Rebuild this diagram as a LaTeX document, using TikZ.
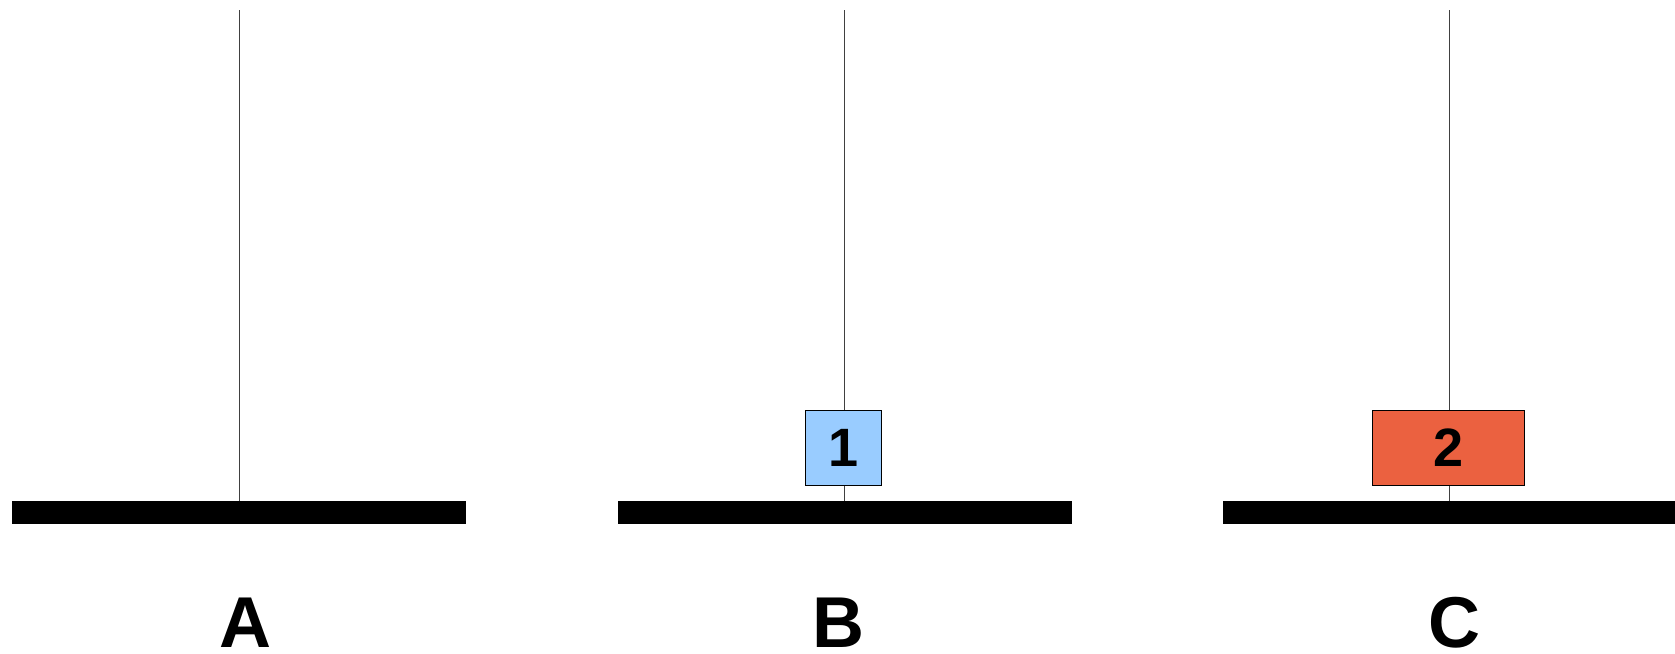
\documentclass[tikz,border=0pt]{standalone}
\usepackage{fontspec}
\setmainfont{Liberation Sans}
\usetikzlibrary{positioning}
\usepackage{xcolor}
\definecolor{diskblue}{RGB}{153,204,255}
\definecolor{diskred}{RGB}{235,97,64}
\tikzset{
  base/.style = {fill=black, draw=none, minimum width=227pt, minimum height=11.6pt,
                 inner sep=0pt, outer sep=0pt},
  peg/.style  = {draw=black!75, line width=0.5pt},
  disk/.style = {draw=black, line width=0.5pt, minimum height=37.7pt, inner sep=0pt,
                 font=\fontsize{27}{30}\selectfont\bfseries},
  tag/.style  = {font=\fontsize{36}{40}\selectfont\bfseries, anchor=base, inner sep=0pt,
                 text depth=0pt}
}

\begin{document}
\begin{tikzpicture}[x=0.5pt, y=-0.5pt]
\useasboundingbox (0,0) rectangle (1675,653);
\foreach \x/\name in {239/A, 844.5/B, 1449.5/C} {
  \node[base] (base\name) at (\x,512.3) {};
  \coordinate (top\name) at (\x,10);
  \draw[peg] (top\name) -- (base\name.north);
}

% Disks
\node[disk, fill=diskblue, minimum width=37.8pt] at (843.5,448) (disk1) {1};
\node[disk, fill=diskred,  minimum width=75.8pt] at (1448.5,448) (disk2) {2};

% Peg names
\node[tag] at (245,647)  (tagA) {A};
\node[tag] at (838,647)  (tagB) {B};
\node[tag] at (1454,647) (tagC) {C};
\end{tikzpicture}
\end{document}
